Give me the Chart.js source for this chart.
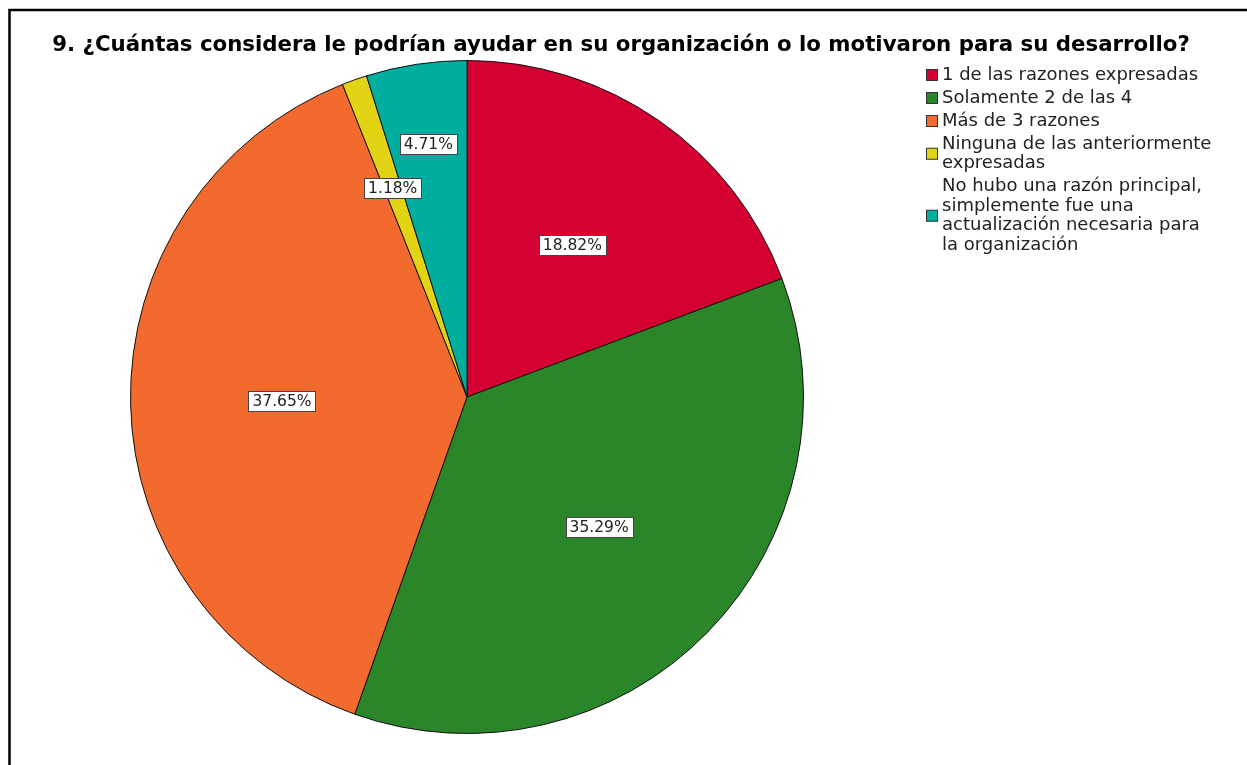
<!DOCTYPE html>
<html>
<head>
<meta charset="utf-8">
<script src="https://cdn.jsdelivr.net/npm/chart.js@4/dist/chart.umd.min.js"></script>
<style>
	html, body { margin: 0; padding: 0; background: #fff; }
	canvas { display: block; }
</style>
</head>
<body>
<canvas id="pie-chart" width="1247" height="765"></canvas>
<script>
const chartTitle = '9. ¿Cuántas considera le podrían ayudar en su organización o lo motivaron para su desarrollo?';
const categories = [
	'1 de las razones expresadas',
	'Solamente 2 de las 4',
	'Más de 3 razones',
	'Ninguna de las anteriormente expresadas',
	'No hubo una razón principal, simplemente fue una actualización necesaria para la organización',
];
const percentages = [ 18.82, 35.29, 37.65, 1.18, 4.71 ];
const sliceColors = [ '#d50032', '#2a8629', '#f26a2d', '#e2d414', '#00ae9f' ];

const FONT = '"DejaVu Sans", "Noto Sans", sans-serif';

function wrapText( ctx, text, maxWidth ) {
	const words = text.split( ' ' );
	const lines = [];
	let line = '';
	words.forEach( ( w ) => {
		const test = line ? line + ' ' + w : w;
		if ( ctx.measureText( test ).width > maxWidth && line ) {
			lines.push( line );
			line = w;
		} else {
			line = test;
		}
	} );
	if ( line ) lines.push( line );
	return lines;
}

// frame, title and legend the way the original output draws them
const decorPlugin = {
	id: 'decor',
	beforeDraw( chart ) {
		const ctx = chart.ctx;
		ctx.save();
		ctx.fillStyle = '#fff';
		ctx.fillRect( 0, 0, chart.width, chart.height );
		ctx.strokeStyle = '#000';
		ctx.lineWidth = 2.5;
		ctx.beginPath();
		ctx.moveTo( 9.5, chart.height );
		ctx.lineTo( 9.5, 10 );
		ctx.lineTo( chart.width, 10 );
		ctx.stroke();
		ctx.restore();
	},
	afterDraw( chart ) {
		const ctx = chart.ctx;
		ctx.save();
		ctx.fillStyle = '#000';
		ctx.font = 'bold 21.3px ' + FONT;
		ctx.textAlign = 'center';
		ctx.textBaseline = 'middle';
		ctx.fillText( chartTitle, 621, 45 );

		// legend
		ctx.font = '18px ' + FONT;
		ctx.textAlign = 'left';
		let y = 75;
		const lineH = 19.5;
		categories.forEach( ( cat, i ) => {
			const lines = wrapText( ctx, cat, 273 );
			const boxY = y + ( ( lines.length - 1 ) * lineH ) / 2;
			ctx.fillStyle = sliceColors[ i ];
			ctx.fillRect( 926.5, boxY - 5.5, 11, 11 );
			ctx.strokeStyle = '#333';
			ctx.lineWidth = 1;
			ctx.strokeRect( 926.5, boxY - 5.5, 11, 11 );
			ctx.fillStyle = '#222';
			lines.forEach( ( l, j ) => {
				ctx.fillText( l, 942, y + j * lineH );
			} );
			y += lines.length * lineH + 3.5;
		} );

		// percentage labels inside the slices, pushed outward if they collide
		const meta = chart.getDatasetMeta( 0 );
		ctx.font = '15.5px ' + FONT;
		ctx.textAlign = 'center';
		const h = 20;
		const boxes = [];
		meta.data.forEach( ( arc, i ) => {
			const span = arc.endAngle - arc.startAngle;
			const mid = ( arc.startAngle + arc.endAngle ) / 2;
			const txt = percentages[ i ].toFixed( 2 ) + '%';
			const w = Math.round( ctx.measureText( txt ).width + 8 );
			let d = arc.outerRadius * ( span < 0.6 ? 0.66 : 0.55 );
			let x, yy;
			const place = () => {
				x = arc.x + Math.cos( mid ) * d;
				yy = arc.y + Math.sin( mid ) * d;
			};
			place();
			const hits = () => boxes.some( ( b ) =>
				Math.abs( b.x - x ) < ( b.w + w ) / 2 + 4 && Math.abs( b.y - yy ) < h + 22 );
			while ( hits() && d < arc.outerRadius * 0.9 ) {
				d += 2;
				place();
			}
			boxes.push( { x, y: yy, w, txt } );
		} );
		boxes.forEach( ( b ) => {
			const left = Math.round( b.x - b.w / 2 ) + 0.5;
			const top = Math.round( b.y - h / 2 ) + 0.5;
			ctx.fillStyle = '#fff';
			ctx.fillRect( left, top, b.w, h );
			ctx.strokeStyle = '#444';
			ctx.lineWidth = 1;
			ctx.strokeRect( left, top, b.w, h );
			ctx.fillStyle = '#222';
			ctx.fillText( b.txt, b.x, b.y + 1 );
		} );
		ctx.restore();
	},
};

const pieConfig = {
	type: 'pie',
	data: {
		labels: categories,
		datasets: [
			{
				data: percentages,
				backgroundColor: sliceColors,
				borderColor: '#111',
				borderWidth: 1,
			},
		],
	},
	options: {
		responsive: false,
		animation: false,
		layout: {
			padding: { left: 130, right: 443, top: 60, bottom: 31 },
		},
		plugins: {
			legend: { display: false },
			title: { display: false },
			tooltip: { enabled: false },
		},
	},
	plugins: [ decorPlugin ],
};

new Chart( document.getElementById( 'pie-chart' ), pieConfig );
</script>
</body>
</html>
